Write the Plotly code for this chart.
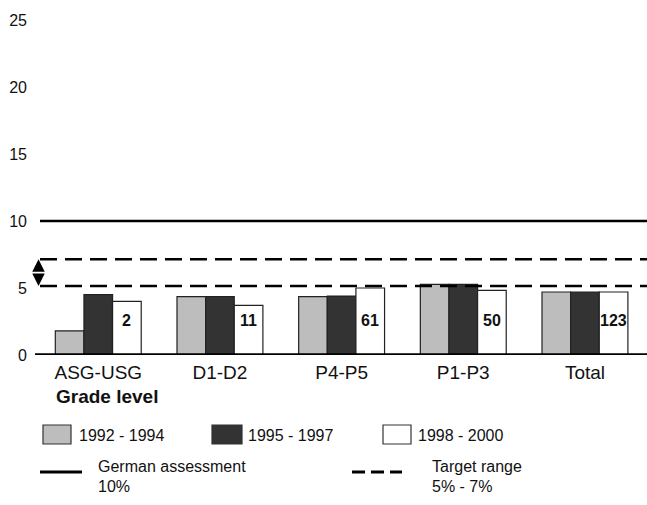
import plotly.graph_objects as go

categories = ["ASG-USG", "D1-D2", "P4-P5", "P1-P3", "Total"]
series_names = ["1992 - 1994", "1995 - 1997", "1998 - 2000"]
values_9294 = [1.8, 4.35, 4.35, 5.27, 4.7]
values_9597 = [4.5, 4.35, 4.4, 5.27, 4.7]
values_9800 = [4.0, 3.7, 5.0, 4.83, 4.7]
counts_9800 = ["2", "11", "61", "50", "123"]
german_assessment = 10
target_low = 5.15
target_high = 7.15
y_ticks = [0, 5, 10, 15, 20, 25]

colors = ["#bdbdbd", "#333333", "#ffffff"]
FONT = "Liberation Sans, Arial, sans-serif"

fig = go.Figure()
for name, vals, col in zip(series_names, [values_9294, values_9597, values_9800], colors):
    fig.add_trace(go.Bar(x=categories, y=vals, name=name, marker=dict(color=col, line=dict(color="#222222", width=1.2)),
                         showlegend=False))

W, H = 647, 505
L, R, T, B = 35, 0, 20, 150
pw = W - L - R
ph = H - T - B

def px(xp):
    return (xp - L) / pw

def py(yp):
    return (H - B - yp) / ph

shapes = []
annotations = []

# reference lines
shapes.append(dict(type="line", xref="paper", yref="y", x0=px(40), x1=1, y0=german_assessment, y1=german_assessment,
                   line=dict(color="black", width=2.5)))
for v in [target_low, target_high]:
    shapes.append(dict(type="line", xref="paper", yref="y", x0=px(40), x1=1, y0=v, y1=v,
                       line=dict(color="black", width=2.5, dash="17px,8px")))
# baseline
shapes.append(dict(type="line", xref="paper", yref="y", x0=0, x1=1, y0=0, y1=0, line=dict(color="black", width=3.5)))

# double arrow (two heads pointing outward from the middle)
mid = (target_low + target_high) / 2
for tip in [target_high, target_low]:
    annotations.append(dict(xref="paper", yref="y", x=px(38.5), y=tip, axref="pixel", ayref="y", ax=0, ay=mid,
                            text="", showarrow=True, arrowhead=2, arrowsize=1.25, arrowwidth=2,
                            arrowcolor="black", standoff=0, startstandoff=0))

# counts on white bars
for c, t, v in zip(categories, counts_9800, values_9800):
    annotations.append(dict(xref="x", yref="y", x=c, y=2.6, xshift=28.7, text="<b>%s</b>" % t, showarrow=False,
                            font=dict(family=FONT, size=16, color="#111111")))

# Grade level
annotations.append(dict(xref="paper", yref="paper", x=px(54), y=py(396), xanchor="left", yanchor="middle",
                        text="<b>Grade level</b>", showarrow=False, font=dict(family=FONT, size=19, color="#111111")))

# legend row 1
box_x = [(43, 71, 77), (212, 242, 246), (383, 411, 416)]
for (x0, x1, tx), name, col in zip(box_x, series_names, colors):
    shapes.append(dict(type="rect", xref="paper", yref="paper", x0=px(x0), x1=px(x1), y0=py(444), y1=py(425),
                       fillcolor=col, line=dict(color="#333333", width=1.2)))
    annotations.append(dict(xref="paper", yref="paper", x=px(tx), y=py(435), xanchor="left", yanchor="middle",
                            text=name, showarrow=False, font=dict(family=FONT, size=16, color="#111111")))

# legend row 2
shapes.append(dict(type="line", xref="paper", yref="paper", x0=px(40), x1=px(82), y0=py(472), y1=py(472),
                   line=dict(color="black", width=3)))
shapes.append(dict(type="line", xref="paper", yref="paper", x0=px(352), x1=px(402), y0=py(472), y1=py(472),
                   line=dict(color="black", width=3, dash="13px,6px")))
for tx, ty, t in [(96, 467, "German assessment"), (96, 486, "10%"), (430, 467, "Target range"), (430, 486, "5% - 7%")]:
    annotations.append(dict(xref="paper", yref="paper", x=px(tx), y=py(ty), xanchor="left", yanchor="middle",
                            text=t, showarrow=False, font=dict(family=FONT, size=16, color="#111111")))

fig.update_layout(
    width=W, height=H,
    margin=dict(l=L, r=R, t=T, b=B, pad=0),
    paper_bgcolor="white", plot_bgcolor="white",
    barmode="group", bargap=0.294, bargroupgap=0,
    shapes=shapes, annotations=annotations,
    font=dict(family=FONT, color="#111111"),
    xaxis=dict(range=[-0.52, 4.51], showgrid=False, zeroline=False, showline=False, ticks="",
               ticklabelstandoff=4, tickfont=dict(family=FONT, size=19, color="#111111"), fixedrange=True),
    yaxis=dict(range=[0, 25], tickvals=y_ticks, showgrid=False, zeroline=False, showline=False, ticks="",
               ticklabelstandoff=7, tickfont=dict(family=FONT, size=16, color="#111111"), fixedrange=True),
)

fig.write_html("out.html", config={"displayModeBar": False},
               post_script="document.body.style.margin='0';document.body.style.overflow='hidden';")
